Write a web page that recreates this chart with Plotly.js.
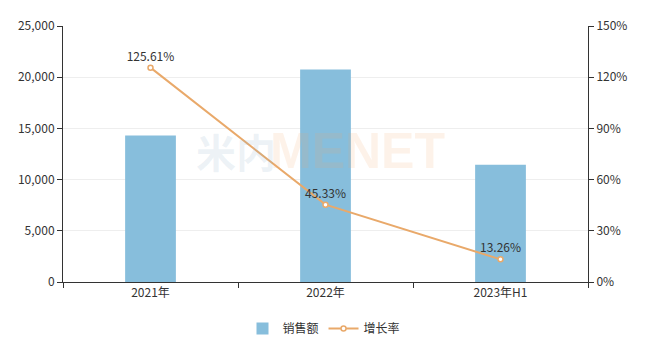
<!DOCTYPE html>
<html>
<head>
<meta charset="utf-8">
<script src="https://cdn.plot.ly/plotly-3.0.1.min.js"></script>
<style>html,body{margin:0;padding:0;background:#fff;}#chart{width:648px;height:359px;}</style>
</head>
<body>
<div id="chart"></div>
<script>
const categories = ['2021年', '2022年', '2023年H1'];
const salesValues = [14300, 20750, 11450];
const growthValues = [125.61, 45.33, 13.26];
const growthLabels = ['125.61%', '45.33%', '13.26%'];
const salesName = '销售额';
const growthName = '增长率';

const font = "'Microsoft YaHei', 'Noto Sans CJK SC', sans-serif";

const traces = [
  {
    type: 'bar', name: salesName, x: categories, y: salesValues,
    marker: {color: '#87bedc'}, width: 0.29, hoverinfo: 'none'
  },
  {
    type: 'scatter', mode: 'lines+markers+text', name: growthName,
    x: categories, y: growthValues, yaxis: 'y2',
    text: growthLabels, textposition: 'top center',
    textfont: {size: 12, color: '#333', family: font},
    line: {color: '#e9a96a', width: 2},
    marker: {size: 5, color: '#fff', line: {color: '#e9a96a', width: 1.5}},
    cliponaxis: false, hoverinfo: 'none'
  }
];

const layout = {
  width: 648, height: 359,
  margin: {l: 63, r: 60, t: 26, b: 77},
  paper_bgcolor: '#fff', plot_bgcolor: '#fff',
  font: {family: font, size: 12, color: '#333'},
  showlegend: true,
  legend: {orientation: 'h', x: 0.5, xanchor: 'center', xref: 'container',
           y: 0.085, yanchor: 'middle', yref: 'container',
           font: {size: 12, color: '#333'}, itemwidth: 30},
  xaxis: {
    type: 'category', range: [-0.5, 2.5], tickson: 'boundaries',
    showline: true, linecolor: '#333', linewidth: 1,
    ticks: 'outside', ticklen: 5, tickcolor: '#333',
    showgrid: false, tickfont: {size: 12, color: '#333'}
  },
  yaxis: {
    range: [0, 25000], dtick: 5000, tickformat: ',d',
    showline: true, linecolor: '#333', linewidth: 1,
    ticks: 'outside', ticklen: 5, tickcolor: '#333',
    gridcolor: '#eeeeee', zeroline: false,
    tickfont: {size: 12, color: '#333'}
  },
  yaxis2: {
    overlaying: 'y', side: 'right', range: [0, 150], dtick: 30, ticksuffix: '%',
    showline: true, linecolor: '#333', linewidth: 1,
    ticks: 'outside', ticklen: 5, tickcolor: '#333',
    showgrid: false, zeroline: false,
    tickfont: {size: 12, color: '#333'}
  },
  annotations: [
    {xref: 'paper', yref: 'paper', x: 0.41, xanchor: 'right', y: 0.51, text: '<b>米内</b>', showarrow: false,
     font: {size: 40, color: 'rgba(140,175,200,0.16)', family: font}},
    {xref: 'paper', yref: 'paper', x: 0.39, xanchor: 'left', y: 0.51, text: '<b>MENET</b>', showarrow: false,
     font: {size: 50, color: 'rgba(240,170,110,0.15)', family: 'Liberation Sans, sans-serif'}}
  ]
};

Plotly.newPlot('chart', traces, layout, {displayModeBar: false, staticPlot: true});
</script>
</body>
</html>
